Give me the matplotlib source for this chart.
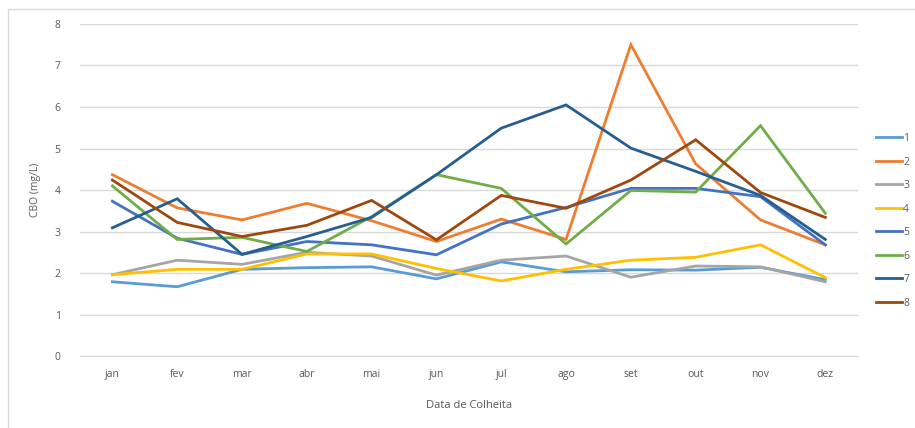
import matplotlib.pyplot as plt
from matplotlib.lines import Line2D

plt.rcParams['font.family'] = ['Open Sans', 'DejaVu Sans']

meses = ['jan', 'fev', 'mar', 'abr', 'mai', 'jun', 'jul', 'ago', 'set', 'out', 'nov', 'dez']

s1 = [1.79, 1.67, 2.09, 2.13, 2.15, 1.86, 2.27, 2.03, 2.08, 2.07, 2.14, 1.84]
s2 = [4.37, 3.57, 3.28, 3.68, 3.26, 2.76, 3.30, 2.81, 7.50, 4.63, 3.28, 2.68]
s3 = [1.96, 2.31, 2.21, 2.50, 2.41, 1.95, 2.31, 2.41, 1.90, 2.17, 2.15, 1.79]
s4 = [1.96, 2.09, 2.09, 2.46, 2.46, 2.11, 1.81, 2.09, 2.31, 2.38, 2.68, 1.89]
s5 = [3.73, 2.84, 2.45, 2.76, 2.68, 2.44, 3.18, 3.58, 4.04, 4.04, 3.84, 2.68]
s6 = [4.10, 2.81, 2.86, 2.52, 3.36, 4.37, 4.04, 2.70, 3.99, 3.95, 5.55, 3.44]
s7 = [3.09, 3.79, 2.45, 2.88, 3.34, 4.37, 5.49, 6.05, 5.01, 4.45, 3.87, 2.81]
s8 = [4.24, 3.22, 2.88, 3.15, 3.75, 2.80, 3.87, 3.56, 4.24, 5.21, 3.94, 3.34]

series = [s1, s2, s3, s4, s5, s6, s7, s8]
nomes = ['1', '2', '3', '4', '5', '6', '7', '8']
cores = ['#5B9BD5', '#ED7D31', '#A5A5A5', '#FFC000',
         '#4472C4', '#70AD47', '#255E91', '#9E480E']

cinza = '#595959'

fig = plt.figure(figsize=(9.15, 4.28), dpi=100)
ax = fig.add_axes([0.0874, 0.168, 0.850, 0.776])

x = list(range(len(meses)))
for valores, nome, cor in zip(series, nomes, cores):
    ax.plot(x, valores, color=cor, lw=2.0, label=nome, solid_joinstyle='miter')

ax.set_xlim(-0.5, len(meses) - 0.5)
ax.set_ylim(0, 8)
ax.set_yticks(range(0, 9))
ax.set_xticks(x)
ax.set_xticklabels(meses)

ax.grid(axis='y', color='#D9D9D9', lw=1.0)
ax.set_axisbelow(True)
for lado in ['top', 'right', 'left']:
    ax.spines[lado].set_visible(False)
ax.spines['bottom'].set_color('#D9D9D9')
ax.tick_params(axis='both', length=0, colors=cinza, labelsize=7.5)
ax.tick_params(axis='y', pad=14)
ax.tick_params(axis='x', pad=9)

ax.set_ylabel('CBO (mg/L)', color=cinza, fontsize=7.5, labelpad=10)
ax.set_xlabel('Data de Colheita', color=cinza, fontsize=8, labelpad=15)

leg = fig.legend(loc='center left', bbox_to_anchor=(0.957, 0.484),
                 frameon=False, fontsize=7.5, handlelength=2.5,
                 handletextpad=0.15, labelspacing=1.2, borderpad=0,
                 borderaxespad=0)
for t in leg.get_texts():
    t.set_color(cinza)

# moldura do gráfico
fig.add_artist(Line2D([8 / 915, 1], [1 - 9 / 428, 1 - 9 / 428],
                      color='#D9D9D9', lw=1, transform=fig.transFigure))
fig.add_artist(Line2D([8 / 915, 8 / 915], [0, 1 - 9 / 428],
                      color='#D9D9D9', lw=1, transform=fig.transFigure))

fig.savefig('out.png', dpi=100)
